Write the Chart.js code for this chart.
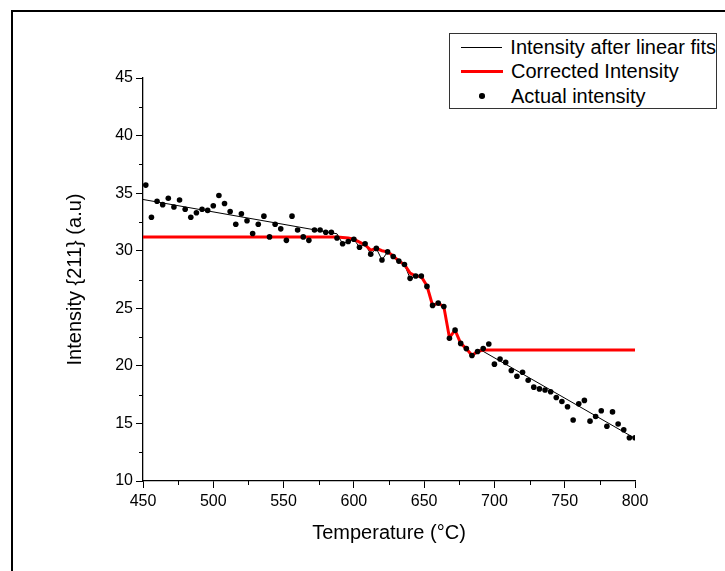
<!DOCTYPE html>
<html>
<head>
<meta charset="utf-8">
<script src="https://cdn.jsdelivr.net/npm/chart.js@4.4.1/dist/chart.umd.min.js"></script>
<style>
    body { margin: 0; background: #fff; }
    .page {
        position: relative;
        width: 725px;
        height: 571px;
        overflow: hidden;
        font-family: 'Liberation Sans', Arial, sans-serif;
    }
    .frame {
        position: absolute;
        left: 11px;
        top: 10px;
        width: 800px;
        height: 700px;
        border: 2px solid #000;
    }
    #chart { position: absolute; left: 0; top: 0; }
    .legend {
        position: absolute;
        left: 449px;
        top: 33px;
        width: 266px;
        height: 73px;
        border: 1px solid #333;
        background: #fff;
        padding-top: 1px;
    }
    .legend-row {
        display: flex;
        align-items: center;
        height: 24.5px;
        font-size: 20px;
        color: #000;
        white-space: nowrap;
    }
    .legend-sample {
        position: relative;
        width: 42px;
        height: 10px;
        margin-left: 11px;
        margin-right: 8px;
    }
</style>
</head>
<body>
<div class="page">
    <div class="frame"></div>
    <canvas id="chart" width="725" height="571"></canvas>
    <div class="legend" id="legend"></div>
</div>
<script>
// Measured points, °C
const temperatures = [
    452, 456, 460, 464, 468, 472, 476, 480, 484, 488,
    492, 496, 500, 504, 508, 512, 516, 520, 524, 528,
    532, 536, 540, 544, 548, 552, 556, 560, 564, 568,
    572, 576, 580, 584, 588, 592, 596, 600, 604, 608,
    612, 616, 620, 624, 628, 632, 636, 640, 644, 648,
    652, 656, 660, 664, 668, 672, 676, 680, 684, 688,
    692, 696, 700, 704, 708, 712, 716, 720, 724, 728,
    732, 736, 740, 744, 748, 752, 756, 760, 764, 768,
    772, 776, 780, 784, 788, 792, 796, 800
];
const actualIntensity = [
    35.7, 32.9, 34.3, 34.0, 34.55, 33.8, 34.4, 33.6, 32.9, 33.3,
    33.6, 33.5, 33.9, 34.8, 34.1, 33.4, 32.3, 33.2, 32.6, 31.5,
    32.3, 33.0, 31.2, 32.3, 31.9, 30.9, 33.0, 31.8, 31.2, 30.9,
    31.8, 31.8, 31.6, 31.6, 31.1, 30.6, 30.8, 31.0, 30.3, 30.6,
    29.7, 30.2, 29.2, 29.9, 29.5, 29.1, 28.8, 27.6, 27.8, 27.8,
    26.9, 25.25, 25.45, 25.15, 22.4, 23.1, 21.95, 21.5, 20.9, 21.25,
    21.5, 21.9, 20.15, 20.6, 20.3, 19.6, 19.1, 19.45, 18.75, 18.15,
    18.0, 17.9, 17.75, 17.25, 16.9, 16.45, 15.3, 16.7, 17.0, 15.2,
    15.6, 16.1, 14.75, 16.0, 14.95, 14.45, 13.75, 13.75
];

// Linear fits below and above the transition
const fitLowTemps = [450, 588];
const fitLowValues = [34.45, 31.47];
const fitHighTemps = [690, 800];
const fitHighValues = [21.4, 13.7];

// Corrected intensity
const correctedTemps = [
    450, 588, 592, 596, 600, 604, 608, 612, 616, 620,
    624, 628, 632, 636, 640, 644, 648, 652, 656, 660,
    664, 668, 672, 676, 680, 684, 688, 692, 800
];
const correctedValues = [
    31.2, 31.2, 31.15, 31.1, 31.0, 30.75, 30.5, 30.05, 30.2, 30.0,
    29.9, 29.55, 29.1, 28.8, 28.05, 27.8, 27.75, 26.95, 25.25, 25.45,
    25.15, 22.45, 23.1, 21.95, 21.5, 20.9, 21.25, 21.38, 21.38
];

const xTickLabels = [450, 500, 550, 600, 650, 700, 750, 800];
const yTickLabels = [10, 15, 20, 25, 30, 35, 40, 45];

const toPoints = (xs, ys) => xs.map((x, i) => ({x: x, y: ys[i]}));

// Black line: fit, then raw data through the transition, then fit again
const fitLine = [].concat(
    toPoints(fitLowTemps, fitLowValues),
    toPoints(temperatures, actualIntensity).filter(p => p.x > 588 && p.x < 690),
    toPoints(fitHighTemps, fitHighValues)
);

const FONT = "'Liberation Sans', Arial, sans-serif";

// Short minor ticks between the labelled ones
const minorTicksPlugin = {
    id: 'minorTicks',
    afterDraw(chart) {
        const {ctx, scales: {x, y}} = chart;
        ctx.save();
        ctx.strokeStyle = '#000';
        ctx.lineWidth = 1;
        ctx.beginPath();
        for (let i = 0; i < xTickLabels.length - 1; i++) {
            const v = (xTickLabels[i] + xTickLabels[i + 1]) / 2;
            const px = Math.round(x.getPixelForValue(v)) + 0.5;
            ctx.moveTo(px, x.top);
            ctx.lineTo(px, x.top + 4);
        }
        for (let i = 0; i < yTickLabels.length - 1; i++) {
            const v = (yTickLabels[i] + yTickLabels[i + 1]) / 2;
            const py = Math.round(y.getPixelForValue(v)) + 0.5;
            ctx.moveTo(y.right, py);
            ctx.lineTo(y.right - 4, py);
        }
        ctx.stroke();
        ctx.restore();
    }
};

const chart = new Chart(document.getElementById('chart'), {
    type: 'scatter',
    data: {
        datasets: [
            {
                label: 'Actual intensity',
                data: toPoints(temperatures, actualIntensity),
                backgroundColor: '#000',
                borderColor: '#000',
                pointRadius: 2.8,
                pointBorderWidth: 0,
                showLine: false,
                order: 0
            },
            {
                label: 'Corrected Intensity',
                data: toPoints(correctedTemps, correctedValues),
                borderColor: '#ff0000',
                backgroundColor: '#ff0000',
                borderWidth: 3,
                pointRadius: 0,
                showLine: true,
                tension: 0,
                order: 1
            },
            {
                label: 'Intensity after linear fits',
                data: fitLine,
                borderColor: '#000',
                backgroundColor: '#000',
                borderWidth: 1,
                pointRadius: 0,
                showLine: true,
                tension: 0,
                order: 2
            }
        ]
    },
    options: {
        responsive: false,
        animation: false,
        events: [],
        layout: {
            padding: {left: 59, top: 78, right: 90, bottom: 26}
        },
        plugins: {
            legend: {display: false},
            tooltip: {enabled: false}
        },
        scales: {
            x: {
                type: 'linear',
                min: 450,
                max: 800,
                afterBuildTicks: (scale) => {
                    scale.ticks = xTickLabels.map(v => ({value: v}));
                },
                afterFit: (scale) => { scale.height = 64; },
                grid: {
                    drawOnChartArea: false,
                    drawTicks: true,
                    tickLength: 7,
                    tickColor: '#000',
                    tickWidth: 1
                },
                border: {display: true, color: '#000', width: 1.3},
                ticks: {
                    color: '#000',
                    padding: 4,
                    maxRotation: 0,
                    font: {family: FONT, size: 16}
                },
                title: {
                    display: true,
                    text: 'Temperature (°C)',
                    color: '#000',
                    padding: {top: 0, bottom: 0},
                    font: {family: FONT, size: 20}
                }
            },
            y: {
                type: 'linear',
                min: 10,
                max: 45,
                afterBuildTicks: (scale) => {
                    scale.ticks = yTickLabels.map(v => ({value: v}));
                },
                afterFit: (scale) => { scale.width = 84; },
                grid: {
                    drawOnChartArea: false,
                    drawTicks: true,
                    tickLength: 7,
                    tickColor: '#000',
                    tickWidth: 1
                },
                border: {display: true, color: '#000', width: 1.3},
                ticks: {
                    color: '#000',
                    padding: 3,
                    font: {family: FONT, size: 16}
                },
                title: {
                    display: true,
                    text: 'Intensity {211} (a.u)',
                    color: '#000',
                    padding: {top: 4, bottom: 0},
                    font: {family: FONT, size: 20}
                }
            }
        }
    },
    plugins: [minorTicksPlugin]
});

// Legend in the reference order: fit line, corrected line, points
const legendOrder = ['Intensity after linear fits', 'Corrected Intensity', 'Actual intensity'];
const legendEl = document.getElementById('legend');
legendOrder.forEach(name => {
    const ds = chart.data.datasets.find(d => d.label === name);
    const row = document.createElement('div');
    row.className = 'legend-row';
    const sample = document.createElement('div');
    sample.className = 'legend-sample';
    if (ds.showLine) {
        const line = document.createElement('div');
        line.style.cssText = 'position:absolute;left:0;right:0;top:50%;height:' + ds.borderWidth +
            'px;margin-top:' + (-ds.borderWidth / 2) + 'px;background:' + ds.borderColor;
        sample.appendChild(line);
    } else {
        const dot = document.createElement('div');
        const d = ds.pointRadius * 2;
        dot.style.cssText = 'position:absolute;left:50%;top:50%;width:' + d + 'px;height:' + d +
            'px;margin:' + (-d / 2) + 'px 0 0 ' + (-d / 2) + 'px;border-radius:50%;background:' + ds.backgroundColor;
        sample.appendChild(dot);
    }
    const text = document.createElement('span');
    text.textContent = ds.label;
    row.appendChild(sample);
    row.appendChild(text);
    legendEl.appendChild(row);
});
</script>
</body>
</html>
